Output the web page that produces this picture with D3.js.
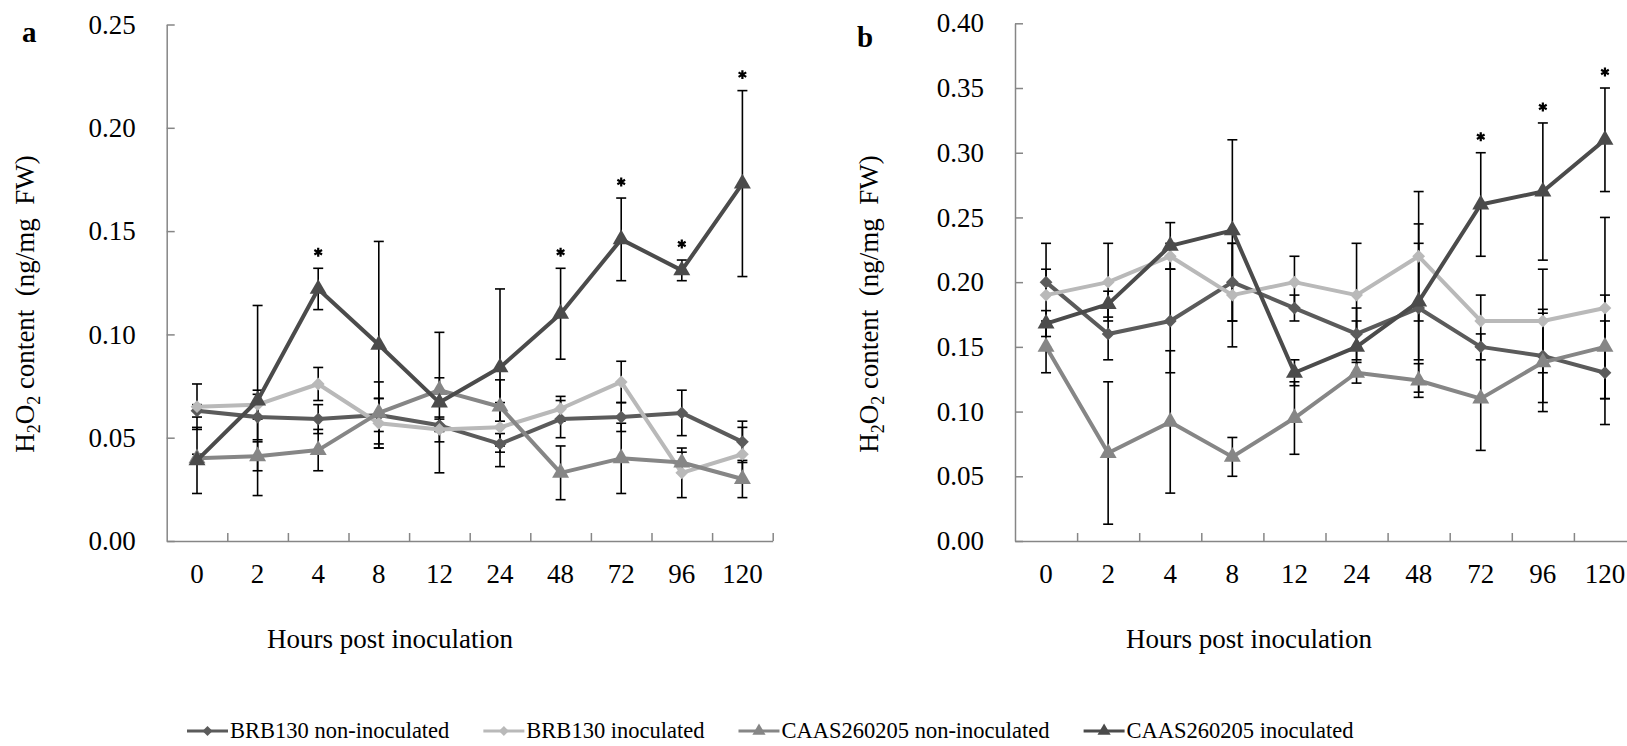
<!DOCTYPE html>
<html>
<head>
<meta charset="utf-8">
<title>H2O2 content</title>
<script src="https://d3js.org/d3.v7.min.js"></script>
<style>
    body { margin: 0; background: #fff; }
    svg { display: block; font-family: "Liberation Serif", "Times New Roman", serif; }
    .tick text { font-size: 27px; fill: #000; font-family: "Liberation Serif", "Times New Roman", serif; }
    .axis .domain, .axis line { stroke: #868686; stroke-width: 1.5; }
</style>
</head>
<body>
<svg id="chart" width="1627" height="746"></svg>
<script>
// categories
const hours = ['0', '2', '4', '8', '12', '24', '48', '72', '96', '120'];
const seriesNames = ['BRB130 non-inoculated', 'BRB130 inoculated', 'CAAS260205 non-inoculated', 'CAAS260205 inoculated'];

// panel a values (ng/mg FW) and error bars
const aBrbNon      = [0.063, 0.060, 0.059, 0.061, 0.056, 0.047, 0.059, 0.060, 0.062, 0.048];
const aBrbNonErr   = [0.003, 0.011, 0.007, 0.008, 0.003, 0.011, 0.009, 0.007, 0.011, 0.010];
const aBrbInoc     = [0.065, 0.066, 0.076, 0.057, 0.054, 0.055, 0.064, 0.077, 0.033, 0.042];
const aBrbInocErr  = [0.011, 0.007, 0.008, 0.012, 0.006, 0.012, 0.006, 0.010, 0.012, 0.013];
const aCaasNon     = [0.040, 0.041, 0.044, 0.062, 0.073, 0.065, 0.033, 0.040, 0.038, 0.030];
const aCaasNonErr  = [0.002, 0.007, 0.010, 0.015, 0.006, 0.013, 0.013, 0.017, 0.005, 0.009];
const aCaasInoc    = [0.039, 0.068, 0.122, 0.095, 0.067, 0.084, 0.110, 0.146, 0.131, 0.173];
const aCaasInocErr = [0.016, 0.046, 0.010, 0.050, 0.034, 0.038, 0.022, 0.020, 0.005, 0.045];
const aSignificant = ['4', '48', '72', '96', '120'];
const aTicks = [0, 0.05, 0.10, 0.15, 0.20, 0.25];

// panel b values
const bBrbNon      = [0.200, 0.160, 0.170, 0.200, 0.180, 0.160, 0.180, 0.150, 0.143, 0.130];
const bBrbNonErr   = [0.010, 0.020, 0.040, 0.030, 0.010, 0.020, 0.065, 0.010, 0.036, 0.040];
const bBrbInoc     = [0.190, 0.200, 0.220, 0.190, 0.200, 0.190, 0.220, 0.170, 0.170, 0.180];
const bBrbInocErr  = [0.040, 0.030, 0.010, 0.040, 0.020, 0.040, 0.050, 0.020, 0.040, 0.070];
const bCaasNon     = [0.150, 0.068, 0.092, 0.065, 0.095, 0.130, 0.124, 0.110, 0.138, 0.150];
const bCaasNonErr  = [0.020, 0.055, 0.055, 0.015, 0.028, 0.008, 0.013, 0.040, 0.038, 0.040];
const bCaasInoc    = [0.168, 0.183, 0.228, 0.240, 0.130, 0.150, 0.185, 0.260, 0.270, 0.310];
const bCaasInocErr = [0.010, 0.010, 0.018, 0.070, 0.010, 0.020, 0.045, 0.040, 0.053, 0.040];
const bSignificant = ['72', '96', '120'];
const bTicks = [0, 0.05, 0.10, 0.15, 0.20, 0.25, 0.30, 0.35, 0.40];

const styles = [
    {color: '#5b5b5b', shape: 'diamond'},
    {color: '#b9b9b9', shape: 'diamond'},
    {color: '#868686', shape: 'triangle'},
    {color: '#4b4b4b', shape: 'triangle'}
];

const svg = d3.select('#chart');
svg.append('rect').attr('width', 1627).attr('height', 746).attr('fill', '#fff');

function marker(sel, shape, scale) {
    if (shape === 'diamond') {
        sel.attr('d', d3.symbol().type(d3.symbolSquare).size(82 * scale)());
    } else {
        sel.attr('d', d3.symbol().type(d3.symbolTriangle).size(125 * scale)());
    }
}

function drawPanel(p) {
    const x = d3.scaleBand().domain(hours).range(p.xRange);
    const y = d3.scaleLinear().domain([0, p.yMax]).range([541, p.yTop]);
    const cx = h => x(h) + x.bandwidth() / 2;
    const g = svg.append('g');

    // y axis, ticks pointing inward
    g.append('g').attr('class', 'axis')
        .attr('transform', `translate(${p.xRange[0]},0)`)
        .call(d3.axisLeft(y).tickValues(p.ticks).tickFormat(d3.format('.2f'))
            .tickSizeInner(-8).tickSizeOuter(0).tickPadding(31));

    // x axis labels + boundary ticks
    g.append('g').attr('class', 'axis')
        .attr('transform', 'translate(0,541)')
        .call(d3.axisBottom(x).tickSize(0).tickPadding(23));
    const edge = d3.scaleLinear().domain([0, hours.length]).range(p.xRange);
    g.append('g').attr('class', 'axis')
        .attr('transform', 'translate(0,541)')
        .call(d3.axisBottom(edge).tickValues(d3.range(1, hours.length + 1))
            .tickSizeInner(-8).tickSizeOuter(0).tickFormat(''))
        .call(a => a.select('.domain').remove());

    // error bars
    const eb = g.append('g').attr('stroke', '#000').attr('stroke-width', 1.6);
    p.series.forEach(s => {
        hours.forEach((h, i) => {
            const top = y(s.v[i] + s.e[i]), bot = y(s.v[i] - s.e[i]);
            eb.append('line').attr('x1', cx(h)).attr('x2', cx(h)).attr('y1', top).attr('y2', bot);
            eb.append('line').attr('x1', cx(h) - 5).attr('x2', cx(h) + 5).attr('y1', top).attr('y2', top);
            eb.append('line').attr('x1', cx(h) - 5).attr('x2', cx(h) + 5).attr('y1', bot).attr('y2', bot);
        });
    });

    // lines and markers
    const line = d3.line().x((d, i) => cx(hours[i])).y(d => y(d));
    p.series.forEach((s, k) => {
        g.append('path').datum(s.v)
            .attr('d', line)
            .attr('fill', 'none')
            .attr('stroke', styles[k].color)
            .attr('stroke-width', 4)
            .attr('stroke-linejoin', 'round');
        g.append('g').selectAll('path').data(s.v).join('path')
            .call(marker, styles[k].shape, 1)
            .attr('fill', styles[k].color)
            .attr('transform', (d, i) => `translate(${cx(hours[i])},${y(d)}) rotate(${styles[k].shape === 'diamond' ? 45 : 0})`);
    });

    // significance asterisks over the inoculated CAAS260205 series
    const sig = p.series[3];
    g.append('g').selectAll('path').data(p.sig).join('path')
        .attr('d', d3.symbol().type(d3.symbolAsterisk).size(55)())
        .attr('fill', 'none').attr('stroke', '#000').attr('stroke-width', 2.2)
        .attr('transform', h => {
            const i = hours.indexOf(h);
            return `translate(${cx(h)},${y(sig.v[i] + sig.e[i]) - 16})`;
        });

    // panel letter
    g.append('text').attr('x', p.letterX).attr('y', p.letterY)
        .attr('font-size', 29).attr('font-weight', 'bold').text(p.letter);

    // axis titles
    g.append('text').attr('x', p.titleX).attr('y', 648)
        .attr('text-anchor', 'middle').attr('font-size', 27)
        .text('Hours post inoculation');

    const yt = g.append('text')
        .attr('transform', `translate(${p.yTitleX},304) rotate(-90)`)
        .attr('text-anchor', 'middle').attr('font-size', 27)
        .style('white-space', 'pre');
    yt.append('tspan').text('H');
    yt.append('tspan').attr('font-size', 18).attr('dy', 6).text('2');
    yt.append('tspan').attr('dy', -6).text('O');
    yt.append('tspan').attr('font-size', 18).attr('dy', 6).text('2');
    yt.append('tspan').attr('dy', -6).text(' content  (ng/mg  FW)');
}

drawPanel({
    xRange: [166.7, 772.7], yTop: 24.5, yMax: 0.25, ticks: aTicks, sig: aSignificant,
    letter: 'a', letterX: 22, letterY: 42, titleX: 390, yTitleX: 34,
    series: [
        {v: aBrbNon, e: aBrbNonErr}, {v: aBrbInoc, e: aBrbInocErr},
        {v: aCaasNon, e: aCaasNonErr}, {v: aCaasInoc, e: aCaasInocErr}
    ]
});

drawPanel({
    xRange: [1015, 1636], yTop: 23.3, yMax: 0.40, ticks: bTicks, sig: bSignificant,
    letter: 'b', letterX: 857, letterY: 47, titleX: 1249, yTitleX: 878,
    series: [
        {v: bBrbNon, e: bBrbNonErr}, {v: bBrbInoc, e: bBrbInocErr},
        {v: bCaasNon, e: bCaasNonErr}, {v: bCaasInoc, e: bCaasInocErr}
    ]
});

// legend, items laid out one after another
let lx = 187;
const legend = svg.append('g');
seriesNames.forEach((name, k) => {
    const item = legend.append('g');
    item.append('line').attr('x1', lx).attr('x2', lx + 41).attr('y1', 731).attr('y2', 731)
        .attr('stroke', styles[k].color).attr('stroke-width', 3);
    item.append('path').call(marker, styles[k].shape, 0.6)
        .attr('fill', styles[k].color)
        .attr('transform', `translate(${lx + 20.5},731) rotate(${styles[k].shape === 'diamond' ? 45 : 0})`);
    const t = item.append('text').attr('x', lx + 43).attr('y', 738)
        .attr('font-size', 22.5)
        .text(name);
    lx = lx + 43 + t.node().getComputedTextLength() + 34;
});
</script>
</body>
</html>
